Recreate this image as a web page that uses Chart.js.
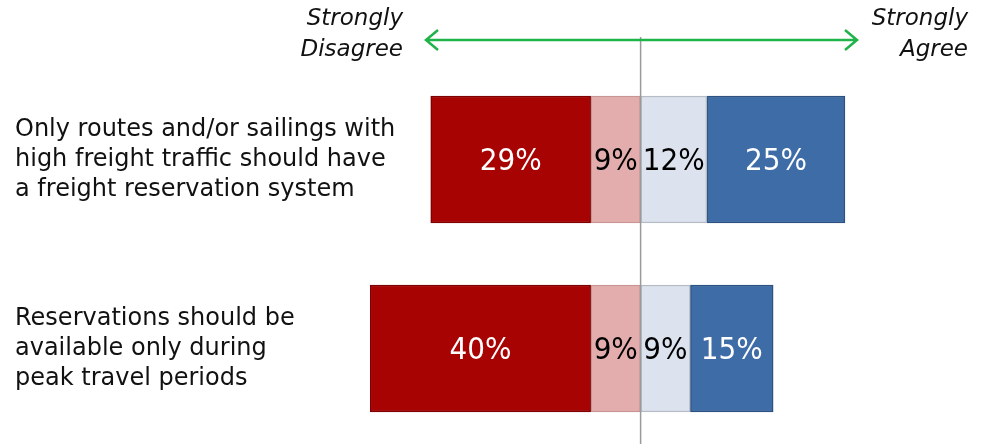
<!DOCTYPE html>
<html>
<head>
<meta charset="utf-8">
<script src="https://cdn.jsdelivr.net/npm/chart.js@4.4.1/dist/chart.umd.min.js"></script>
<style>
  html, body { margin: 0; padding: 0; background: #fff; }
  #wrap { position: relative; width: 988px; height: 444px; }
</style>
</head>
<body>
<div id="wrap"><canvas id="chart" width="988" height="444"></canvas></div>
<script>
// 数据
const categories = [
  ["Only routes and/or sailings with", "high freight traffic should have", "a freight reservation system"],
  ["Reservations should be", "available only during", "peak travel periods"]
];
const strongDisagree = [29, 40];
const disagree = [9, 9];
const agree = [12, 9];
const strongAgree = [25, 15];

const FONT = "'DejaVu Sans', sans-serif";
const FONT_NUM = "'DejaVu Sans Condensed', 'DejaVu Sans', sans-serif";
const AXIS_W = 355;

/**
 * 柱子渐变（上亮下暗，模拟立体效果）
 */
function barFill(light, base, dark) {
  return function (c) {
    const bar = c.element;
    if (!bar || bar.height === undefined || isNaN(bar.y)) return base;
    const top = bar.y - bar.height / 2;
    const bottom = bar.y + bar.height / 2;
    const g = c.chart.ctx.createLinearGradient(0, top, 0, bottom);
    g.addColorStop(0, light);
    g.addColorStop(0.1, base);
    g.addColorStop(0.9, base);
    g.addColorStop(1, dark);
    return g;
  };
}

/**
 * 柱内百分比标签
 */
const barLabels = {
  id: "barLabels",
  afterDatasetsDraw(chart) {
    const ctx = chart.ctx;
    ctx.save();
    ctx.font = "31px " + FONT_NUM;
    ctx.textAlign = "center";
    ctx.textBaseline = "middle";
    chart.data.datasets.forEach(function (ds, i) {
      const meta = chart.getDatasetMeta(i);
      meta.data.forEach(function (bar, j) {
        const v = Math.abs(ds.data[j]);
        ctx.fillStyle = ds.labelColor;
        ctx.fillText(v + "%", (bar.x + bar.base) / 2, bar.y + 2);
      });
    });
    ctx.restore();
  }
};

/**
 * 顶部箭头、标题和中线
 */
const header = {
  id: "header",
  afterDraw(chart) {
    const ctx = chart.ctx;
    const x0 = chart.scales.x.getPixelForValue(0);
    ctx.save();
    // 中线
    ctx.strokeStyle = "#9a9a9a";
    ctx.lineWidth = 1.5;
    ctx.beginPath();
    ctx.moveTo(x0, 37);
    ctx.lineTo(x0, 444);
    ctx.stroke();

    // 双向箭头
    ctx.strokeStyle = "#1fb34a";
    ctx.lineWidth = 2.5;
    ctx.beginPath();
    ctx.moveTo(426, 40);
    ctx.lineTo(857, 40);
    ctx.moveTo(438, 30);
    ctx.lineTo(426, 40);
    ctx.lineTo(438, 50);
    ctx.moveTo(845, 30);
    ctx.lineTo(857, 40);
    ctx.lineTo(845, 50);
    ctx.stroke();

    // 文字
    ctx.fillStyle = "#111";
    ctx.font = "italic 23px " + FONT;
    ctx.textBaseline = "middle";
    ctx.textAlign = "right";
    ctx.fillText("Strongly", 403, 19);
    ctx.fillText("Disagree", 403, 50);
    ctx.fillText("Strongly", 968, 19);
    ctx.fillText("Agree", 968, 50);
    ctx.restore();
  }
};

const ctx = document.getElementById("chart");
new Chart(ctx, {
  type: "bar",
  data: {
    labels: categories,
    datasets: [
      {
        label: "Disagree",
        data: disagree.map(function (v) { return -v; }),
        backgroundColor: barFill("#f0cccc", "#e3adad", "#c99494"),
        borderColor: "#c99494",
        labelColor: "#000"
      },
      {
        label: "Strongly Disagree",
        data: strongDisagree.map(function (v) { return -v; }),
        backgroundColor: barFill("#d82a2a", "#a80303", "#850000"),
        borderColor: "#7e0000",
        labelColor: "#fff"
      },
      {
        label: "Agree",
        data: agree,
        backgroundColor: barFill("#f4f6fa", "#dde3ee", "#c3c9d3"),
        borderColor: "#b6bcc6",
        labelColor: "#000"
      },
      {
        label: "Strongly Agree",
        data: strongAgree,
        backgroundColor: barFill("#5f8cc4", "#3e6ca6", "#2f5686"),
        borderColor: "#2d5282",
        labelColor: "#fff"
      }
    ]
  },
  options: {
    indexAxis: "y",
    responsive: false,
    animation: false,
    layout: { padding: { left: 15, right: 5, top: 65, bottom: 1 } },
    datasets: {
      bar: {
        borderWidth: 1.5,
        borderSkipped: false,
        barThickness: 127
      }
    },
    plugins: {
      legend: { display: false },
      tooltip: { enabled: false }
    },
    scales: {
      x: {
        stacked: true,
        min: -49,
        max: 62,
        display: false
      },
      y: {
        stacked: true,
        grid: { display: false },
        border: { display: false },
        afterFit: function (scale) {
          scale.width = AXIS_W;
          scale.paddingTop = 0;
          scale.paddingBottom = 0;
        },
        // mirror 避免标签被轴宽裁切，用负 padding 把文字挪回左边
        ticks: {
          mirror: true,
          padding: -AXIS_W,
          color: "#111",
          font: { family: FONT, size: 24, lineHeight: 1.25 }
        }
      }
    }
  },
  plugins: [barLabels, header]
});
</script>
</body>
</html>
